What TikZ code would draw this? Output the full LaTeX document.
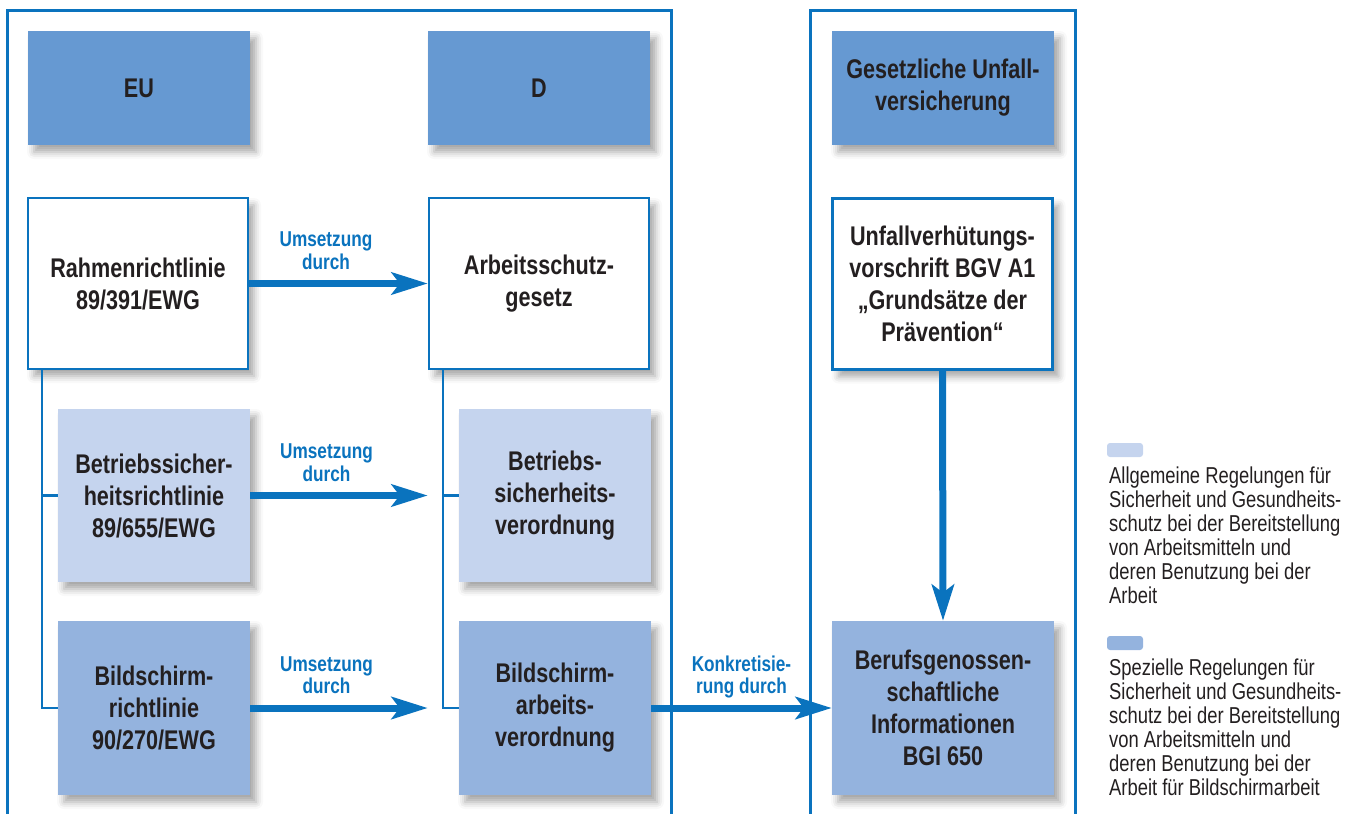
\documentclass[tikz,border=0pt]{standalone}
\usepackage{fontspec}
\setmainfont[FakeStretch=0.8]{Liberation Sans}
\usetikzlibrary{arrows.meta,shadows.blur}

\definecolor{lineblue}{HTML}{0A73BE}
\definecolor{headblue}{HTML}{6699D2}
\definecolor{lightblue}{HTML}{C5D4EE}
\definecolor{midblue}{HTML}{94B3DE}
\definecolor{inktext}{HTML}{231F20}

\newcommand{\boxfont}{\fontsize{27}{32}\selectfont\bfseries}
\newcommand{\lblfont}{\fontsize{21.5}{22.5}\selectfont\bfseries}
\newcommand{\legfont}{\fontsize{23}{24}\selectfont}

\begin{document}
\begin{tikzpicture}[x=1pt,y=-1pt]
	\tikzstyle{frame}=[lineblue,line width=3pt]
	\tikzstyle{box}=[rectangle,align=center,text=inktext,font=\boxfont,inner sep=0pt,
		blur shadow={shadow xshift=6pt,shadow yshift=-7pt,shadow blur radius=7pt,shadow opacity=35}]
	\tikzstyle{head}=[box,fill=headblue,minimum width=222pt,minimum height=114pt]
	\tikzstyle{law}=[box,fill=white,draw=lineblue,line width=2.5pt,minimum width=220pt,minimum height=171pt]
	\tikzstyle{general}=[box,fill=lightblue,minimum width=192pt,minimum height=173pt]
	\tikzstyle{special}=[box,fill=midblue,minimum width=192pt,minimum height=174pt]
	\tikzstyle{tree}=[lineblue,line width=2.5pt]
	\tikzstyle{impl}=[lineblue,line width=7pt,-{Stealth[length=36pt,width=22pt,inset=8pt]}]
	\tikzstyle{lbl}=[align=center,text=lineblue,font=\lblfont,inner sep=0pt,text depth=0pt]
	\tikzstyle{swatch}=[rectangle,rounded corners=3pt,minimum width=36pt,minimum height=14pt,inner sep=0pt]
	\tikzstyle{legend}=[anchor=north west,align=left,text=inktext,font=\legfont,inner sep=0pt]
	\useasboundingbox (0,0) rectangle (1363,814);

	\node (eu)  at (139,88) [head] {EU};
	\node (d)   at (539,88) [head] {D};
	\node (guv) at (943,88) [head] {Gesetzliche Unfall-\\versicherung};

	\node (rahmen) at (138,283.5) [law] {Rahmenrichtlinie\\89/391/EWG};
	\node (asg)    at (539,283.5) [law] {Arbeitsschutz-\\gesetz};
	\node (bgva1)  at (942.5,284) [law] {Unfallverhütungs-\\vorschrift BGV A1\\„Grundsätze der\\Prävention“};

	\node (bsrl) at (154,495.5) [general] {Betriebssicher-\\heitsrichtlinie\\89/655/EWG};
	\node (bsv)  at (555,495.5) [general] {Betriebs-\\sicherheits-\\verordnung};

	\node (bsrl90) at (154,708) [special] {Bildschirm-\\richtlinie\\90/270/EWG};
	\node (bsav)   at (555,708) [special] {Bildschirm-\\arbeits-\\verordnung};
	\node (bgi)    at (943,708) [special,minimum width=222pt] {Berufsgenossen-\\schaftliche\\Informationen\\BGI 650};

	% Rahmen -> Einzelrichtlinien
	\draw [tree] ([xshift=15pt]rahmen.south west) |- (bsrl.west);
	\draw [tree] ([xshift=15pt]rahmen.south west) |- (bsrl90.west);
	\draw [tree] ([xshift=15pt]asg.south west) |- (bsv.west);
	\draw [tree] ([xshift=15pt]asg.south west) |- (bsav.west);

	\draw [impl] (rahmen.east) -- (asg.west)
		node [lbl,pos=0.43,above=11pt] {Umsetzung\\durch};
	\draw [impl] (bsrl.east) -- (bsrl.east -| asg.west)
		node [lbl,pos=0.43,above=11pt] {Umsetzung\\durch};
	\draw [impl] (bsrl90.east) -- (bsrl90.east -| asg.west)
		node [lbl,pos=0.43,above=11pt] {Umsetzung\\durch};
	\draw [impl] (bsav.east) -- (bgi.west)
		node [lbl,midway,above=11pt] {Konkretisie-\\rung durch};
	\draw [impl] (bgva1.south) -- (bgi.north);

	\draw [frame] (7,814) -- (7,10) -- (671,10) -- (671,814);
	\draw [frame] (810,814) -- (810,10) -- (1075,10) -- (1075,814);

	% Legende
	\node (swlight) at (1125,450) [swatch,fill=lightblue] {};
	\node (leglight) at (1109,467) [legend] {Allgemeine Regelungen für\\Sicherheit und Gesundheits-\\schutz bei der Bereitstellung\\von Arbeitsmitteln und\\deren Benutzung bei der\\Arbeit};
	\node (swmid) at (1125,643) [swatch,fill=midblue] {};
	\node (legmid) at (1109,659) [legend] {Spezielle Regelungen für\\Sicherheit und Gesundheits-\\schutz bei der Bereitstellung\\von Arbeitsmitteln und\\deren Benutzung bei der\\Arbeit für Bildschirmarbeit};
\end{tikzpicture}
\end{document}
